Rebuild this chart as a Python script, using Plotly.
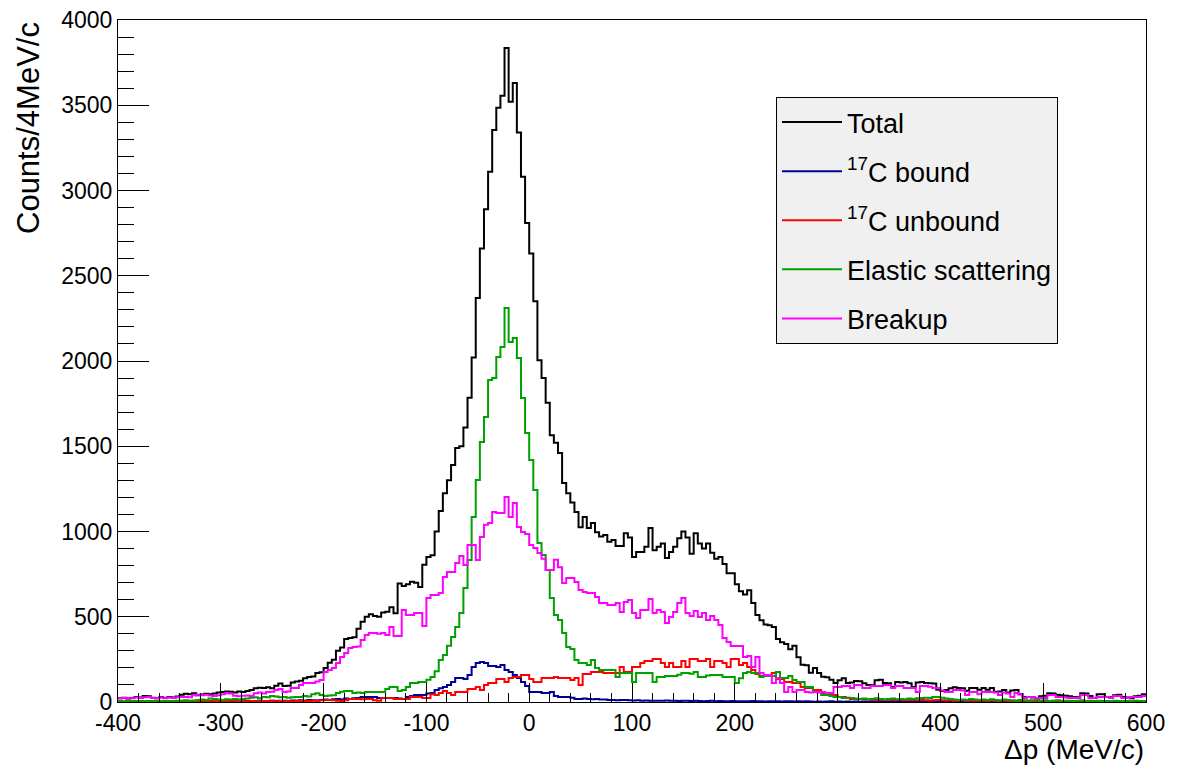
import numpy as np
import plotly.graph_objects as go

# Histogram contents, 250 bins of 4 MeV/c from -400 to 600 (rows of 10 bins = 40 MeV/c)
total = [
    22, 25, 20, 24, 30, 26, 35, 33, 25, 22,            # -400
    28, 24, 30, 26, 32, 42, 48, 45, 52, 40,            # -360
    44, 48, 46, 50, 56, 58, 62, 60, 56, 62,            # -320
    58, 64, 70, 80, 84, 82, 86, 80, 95, 108,           # -280
    94, 96, 115, 120, 125, 140, 147, 150, 170, 175,    # -240
    200, 230, 248, 300, 320, 370, 375, 380, 430, 470,  # -200
    500, 515, 505, 500, 525, 530, 555, 520, 695, 680,  # -160
    690, 705, 700, 675, 805, 850, 860, 1000, 1120, 1225,   # -120
    1300, 1390, 1490, 1500, 1610, 1785, 2020, 2370, 2660, 2890,  # -80
    3110, 3355, 3485, 3555, 3836, 3520, 3630, 3340, 3080, 2810,  # -40
    2630, 2350, 2005, 1900, 1755, 1565, 1520, 1460, 1285, 1225,  # 0
    1170, 1115, 1025, 1085, 1020, 1050, 995, 970, 980, 940,      # 40
    950, 915, 915, 990, 965, 850, 880, 880, 910, 1020,           # 80
    890, 910, 930, 845, 880, 910, 960, 1000, 965, 870,           # 120
    990, 930, 900, 930, 875, 840, 850, 810, 755, 755,            # 160
    690, 650, 630, 655, 580, 510, 480, 455, 450, 440,            # 200
    370, 350, 340, 310, 330, 262, 218, 215, 172, 200,            # 240
    170, 148, 145, 130, 112, 128, 140, 112, 115, 123,            # 280
    122, 110, 100, 98, 128, 130, 112, 110, 88, 118,              # 320
    115, 118, 110, 88, 115, 118, 112, 110, 108, 72,              # 360
    65, 70, 80, 86, 82, 80, 66, 82, 82, 72,                      # 400
    82, 72, 82, 60, 62, 70, 55, 68, 70, 45,                      # 440
    30, 30, 26, 22, 34, 36, 52, 50, 42, 40,                      # 480
    36, 34, 30, 28, 52, 50, 35, 24, 46, 46,                      # 520
    30, 28, 40, 42, 30, 26, 22, 34, 36, 45,                      # 560
]

bound17c = [
    3, 2, 3, 2, 4, 3, 2, 3, 2, 3,
    2, 3, 4, 3, 2, 3, 4, 3, 2, 4,
    3, 4, 5, 3, 4, 5, 4, 6, 5, 4,
    5, 6, 4, 5, 7, 6, 5, 8, 6, 7,
    8, 6, 9, 8, 10, 8, 12, 10, 9, 12,
    14, 12, 16, 18, 15, 20, 18, 22, 23, 29,
    29, 29, 29, 23, 23, 23, 23, 23, 20, 18,
    29, 35, 41, 41, 41, 50, 53, 70, 80, 88,
    100, 117, 141, 141, 135, 158, 205, 229, 234, 229,
    211, 211, 205, 217, 188, 176, 158, 141, 117, 94,
    59, 59, 59, 53, 53, 59, 35, 29, 29, 29,
    25, 18, 18, 20, 18, 16, 18, 15, 14, 12,
    12, 10, 12, 11, 10, 9, 10, 8, 9, 8,
    8, 7, 8, 9, 7, 8, 6, 7, 8, 6,
    7, 6, 5, 6, 7, 5, 6, 5, 4, 6,
    5, 4, 5, 4, 6, 4, 5, 3, 4, 5,
    4, 3, 4, 5, 3, 4, 3, 4, 3, 2,
    3, 2, 3, 4, 2, 3, 2, 3, 2, 3,
    2, 3, 2, 2, 3, 2, 1, 2, 3, 2,
    2, 1, 2, 3, 2, 2, 1, 2, 2, 1,
    2, 1, 2, 2, 1, 2, 1, 1, 2, 1,
    1, 2, 1, 1, 2, 1, 1, 2, 1, 1,
    1, 1, 2, 1, 1, 1, 2, 1, 1, 1,
    1, 1, 1, 2, 1, 1, 1, 1, 2, 1,
    1, 1, 1, 1, 2, 1, 1, 1, 1, 1,
]

unbound17c = [
    3, 2, 4, 3, 2, 4, 3, 2, 3, 4,
    3, 4, 2, 3, 5, 4, 3, 4, 3, 5,
    4, 5, 3, 4, 6, 5, 4, 3, 5, 4,
    5, 4, 6, 5, 4, 6, 5, 7, 5, 6,
    5, 6, 5, 7, 6, 8, 6, 7, 8, 10,
    12, 12, 10, 8, 6, 10, 18, 18, 18, 16,
    18, 18, 10, 8, 23, 23, 23, 18, 18, 18,
    18, 29, 29, 29, 23, 23, 45, 41, 53, 64,
    53, 41, 59, 59, 59, 76, 76, 88, 70, 100,
    111, 111, 135, 135, 117, 141, 147, 147, 158, 158,
    135, 117, 117, 141, 141, 141, 147, 141, 141, 141,
    129, 141, 100, 164, 164, 176, 176, 176, 170, 170,
    170, 170, 205, 176, 176, 205, 205, 229, 240, 240,
    252, 252, 229, 205, 229, 205, 205, 240, 205, 252,
    252, 240, 240, 252, 205, 240, 240, 229, 205, 252,
    252, 217, 229, 205, 188, 164, 152, 152, 152, 170,
    135, 135, 117, 117, 111, 111, 88, 82, 82, 70,
    70, 53, 53, 41, 41, 29, 29, 25, 18, 18,
    18, 16, 15, 12, 14, 12, 13, 12, 11, 12,
    12, 10, 11, 12, 10, 11, 10, 9, 10, 11,
    10, 9, 10, 8, 9, 10, 8, 9, 7, 8,
    8, 7, 9, 8, 6, 7, 8, 6, 7, 6,
    6, 7, 5, 6, 7, 5, 6, 4, 5, 6,
    5, 4, 6, 5, 4, 5, 3, 4, 5, 4,
    4, 3, 4, 5, 3, 4, 3, 4, 3, 4,
]

elastic = [
    4, 3, 5, 4, 6, 5, 4, 6, 5, 4,
    5, 6, 4, 5, 7, 8, 10, 8, 9, 12,
    14, 12, 20, 18, 15, 12, 16, 14, 18, 15,
    18, 20, 25, 28, 22, 30, 28, 35, 32, 28,
    30, 25, 28, 29, 30, 35, 32, 45, 52, 41,
    35, 38, 40, 53, 60, 64, 64, 53, 55, 53,
    59, 59, 59, 59, 59, 76, 88, 88, 64, 70,
    88, 111, 111, 117, 117, 130, 147, 180, 246, 276,
    330, 381, 440, 522, 668, 833, 1085, 1302, 1525, 1672,
    1888, 1900, 2023, 2082, 2311, 2111, 2135, 2017, 1783, 1578,
    1419, 1243, 932, 862, 774, 610, 510, 481, 405, 323,
    311, 246, 229, 229, 217, 246, 199, 188, 188, 188,
    188, 147, 170, 170, 170, 117, 170, 170, 170, 170,
    117, 147, 147, 152, 152, 152, 160, 170, 170, 165,
    176, 147, 147, 155, 158, 158, 158, 147, 147, 147,
    111, 140, 170, 176, 170, 170, 147, 152, 152, 152,
    176, 141, 141, 152, 129, 117, 117, 88, 88, 59,
    59, 41, 41, 35, 29, 29, 23, 23, 23, 20,
    18, 20, 16, 18, 22, 18, 15, 18, 20, 16,
    18, 16, 20, 18, 22, 23, 25, 23, 29, 29,
    25, 20, 18, 15, 12, 14, 12, 18, 15, 12,
    14, 12, 16, 12, 10, 14, 12, 10, 8, 12,
    10, 8, 10, 12, 8, 10, 6, 8, 10, 8,
    7, 8, 6, 8, 10, 6, 8, 5, 7, 6,
    6, 5, 7, 6, 4, 6, 5, 7, 6, 5,
]

breakup = [
    22, 24, 20, 22, 26, 24, 28, 30, 24, 22,
    25, 22, 26, 24, 28, 30, 30, 28, 40, 42,
    40, 42, 38, 35, 40, 45, 52, 50, 36, 34,
    36, 38, 35, 52, 55, 50, 58, 60, 70, 76,
    59, 62, 82, 82, 100, 111, 111, 112, 120, 129,
    176, 188, 200, 229, 264, 287, 317, 323, 325, 364,
    393, 405, 405, 400, 405, 393, 440, 387, 387, 540,
    510, 510, 522, 522, 446, 610, 627, 627, 639, 733,
    762, 762, 815, 856, 803, 921, 921, 833, 968, 1040,
    1050, 1114, 1108, 1108, 1202, 1085, 1167, 1026, 997, 985,
    921, 903, 874, 840, 774, 774, 835, 790, 698, 727,
    727, 704, 657, 645, 640, 639, 616, 581, 581, 569,
    569, 581, 528, 586, 598, 522, 493, 540, 540, 604,
    522, 540, 528, 463, 499, 528, 581, 610, 522, 504,
    534, 499, 522, 481, 504, 481, 452, 375, 352, 328,
    328, 328, 264, 270, 205, 264, 170, 158, 158, 111,
    141, 111, 59, 88, 59, 70, 70, 59, 55, 59,
    55, 59, 53, 53, 88, 88, 94, 94, 82, 100,
    100, 82, 82, 94, 94, 94, 100, 100, 82, 94,
    94, 82, 82, 82, 59, 94, 94, 90, 82, 82,
    68, 59, 59, 70, 70, 68, 41, 59, 59, 45,
    59, 59, 59, 55, 41, 55, 50, 29, 53, 45,
    23, 29, 29, 23, 23, 23, 41, 41, 29, 29,
    27, 23, 23, 23, 41, 41, 23, 23, 29, 29,
    29, 23, 35, 35, 23, 23, 29, 29, 29, 35,
]

x_min, bin_w = -400, 4
x_tick_vals = [-400, -300, -200, -100, 0, 100, 200, 300, 400, 500, 600]
x_tick_text = ["-400", "-300", "-200", "-100", "0", "100", "200", "300", "400", "500", "600"]

series = [
    ("Total", total, "#000000"),
    ("<sup>17</sup>C bound", bound17c, "#000099"),
    ("<sup>17</sup>C unbound", unbound17c, "#ff0000"),
    ("Elastic scattering", elastic, "#00a000"),
    ("Breakup", breakup, "#ff00ff"),
]

FONT = "Liberation Sans, Arial, Helvetica, sans-serif"

fig = go.Figure()
for i, (name, vals, col) in enumerate(series):
    edges = x_min + bin_w * np.arange(len(vals) + 1)
    yv = list(vals) + [vals[-1]]
    fig.add_trace(go.Scatter(
        x=edges, y=yv, mode="lines", name=name,
        line=dict(color=col, width=2, shape="hv"),
        legendgroup=f"g{i}", hoverinfo="skip",
    ))

# page has an 8px body margin; keep the figure inside the 1178x769 window
W, H = 1170, 761
L, T = 110, 12
pw, ph = 1028, 682
R, B = W - L - pw, H - T - ph

axis_common = dict(
    showline=True, linecolor="#000000", linewidth=1, mirror=True,
    ticks="inside", tickcolor="#000000", tickwidth=1,
    showgrid=False, zeroline=False, ticklabeloverflow="allow",
    tickfont=dict(family=FONT, size=23, color="#000000"),
)

fig.update_xaxes(
    range=[-400, 600], tickmode="array", tickvals=x_tick_vals, ticktext=x_tick_text,
    ticklen=19,
    minor=dict(dtick=20, tick0=0, ticklen=9, ticks="inside", tickcolor="#000000", showgrid=False),
    **axis_common,
)
fig.update_yaxes(
    range=[0, 4000], dtick=500, tick0=0, ticklen=31,
    minor=dict(dtick=100, ticklen=16, ticks="inside", tickcolor="#000000", showgrid=False),
    **axis_common,
)

# axis titles (ROOT style: aligned to the axis end)
fig.add_annotation(
    text="Counts/4MeV/c", textangle=-90, xref="paper", yref="paper",
    x=(20 - L) / pw, y=1.0, xanchor="center", yanchor="top",
    showarrow=False, font=dict(family=FONT, size=31, color="#000000"),
)
fig.add_annotation(
    text="Δp (MeV/c)", xref="paper", yref="paper",
    x=1.0, y=-(741 - (T + ph)) / ph, xanchor="right", yanchor="middle",
    showarrow=False, font=dict(family=FONT, size=28, color="#000000"),
)

fig.update_layout(
    width=W, height=H,
    margin=dict(l=L, r=R, t=T, b=B, pad=0, autoexpand=False),
    paper_bgcolor="#ffffff", plot_bgcolor="#ffffff",
    showlegend=True,
    legend=dict(
        x=(768 - L) / pw, y=((T + ph) - 89) / ph, xanchor="left", yanchor="top",
        bgcolor="#f0f0f0", bordercolor="#000000", borderwidth=1,
        font=dict(family=FONT, size=27, color="#000000"),
        itemwidth=60, tracegroupgap=11, traceorder="grouped",
    ),
)

fig.write_html("out.html")
